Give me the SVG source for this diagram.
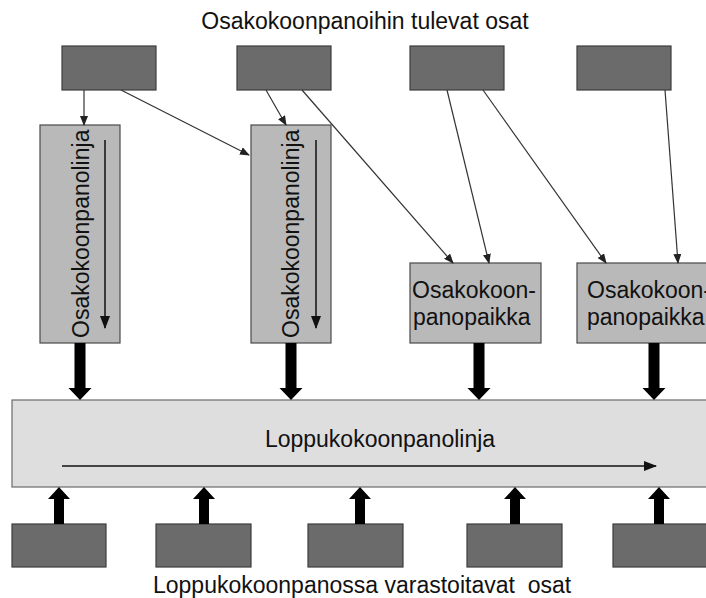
<svg xmlns="http://www.w3.org/2000/svg" width="706" height="598" viewBox="0 0 706 598">
  <style>
    .part { fill: #6b6b6b; stroke: #3c3c3c; stroke-width: 1.2; }
    .line { fill: #b9b9b9; stroke: #4a4a4a; stroke-width: 1.2; }
    .main { fill: #dedede; stroke: #6a6a6a; stroke-width: 1.2; }
    .lbl { font-family: "Liberation Sans", Arial, sans-serif; font-size: 23px; fill: #111; }
    .thin { stroke: #333; stroke-width: 1.2; fill: none; marker-end: url(#tip); }
    .flow { stroke: #111; stroke-width: 1.5; fill: none; }
    .big { fill: #000; }
  </style>
  <defs>
    <marker id="tip" markerWidth="10" markerHeight="8" refX="9" refY="4" orient="auto" markerUnits="userSpaceOnUse">
      <path d="M0,0 L10,4 L0,8 Z" fill="#222"/>
    </marker>
    <marker id="flowTip" markerWidth="13" markerHeight="10" refX="12" refY="5" orient="auto" markerUnits="userSpaceOnUse">
      <path d="M0,0 L13,5 L0,10 Z" fill="#111"/>
    </marker>
    <!-- thick block arrow pointing down, tip at origin -->
    <path id="downArrow" d="M-5.5,-57 L5.5,-57 L5.5,-12 L11.5,-12 L0,0 L-11.5,-12 L-5.5,-12 Z"/>
    <!-- thick block arrow pointing up, tip at origin -->
    <path id="upArrow" d="M-5,37 L5,37 L5,12 L11,12 L0,0 L-11,12 L-5,12 Z"/>
  </defs>

  <text class="lbl" x="365" y="29" text-anchor="middle">Osakokoonpanoihin tulevat osat</text>

  <!-- incoming parts -->
  <g id="in1"><rect class="part" x="62" y="46" width="94" height="44"/></g>
  <g id="in2"><rect class="part" x="237" y="46" width="94" height="44"/></g>
  <g id="in3"><rect class="part" x="410" y="46" width="94" height="44"/></g>
  <g id="in4"><rect class="part" x="577" y="46" width="94" height="44"/></g>

  <!-- sub-assembly lines -->
  <g id="lineA">
    <rect class="line" x="40" y="125" width="80" height="218"/>
    <text class="lbl" transform="translate(89,338) rotate(-90)">Osakokoonpanolinja</text>
    <line class="flow" x1="105" y1="140" x2="105" y2="328" marker-end="url(#flowTip)"/>
  </g>
  <g id="lineB">
    <rect class="line" x="251" y="125" width="80" height="218"/>
    <text class="lbl" transform="translate(299,338) rotate(-90)">Osakokoonpanolinja</text>
    <line class="flow" x1="316" y1="140" x2="316" y2="328" marker-end="url(#flowTip)"/>
  </g>

  <!-- sub-assembly stations -->
  <g id="stationA">
    <rect class="line" x="410" y="263" width="131" height="80"/>
    <text class="lbl" x="412" y="298">Osakokoon-</text>
    <text class="lbl" x="413" y="325">panopaikka</text>
  </g>
  <g id="stationB">
    <rect class="line" x="577" y="263" width="135" height="80"/>
    <text class="lbl" x="587" y="298">Osakokoon-</text>
    <text class="lbl" x="587" y="325">panopaikka</text>
  </g>

  <!-- final assembly line -->
  <g id="finalLine">
    <rect class="main" x="12" y="400" width="700" height="87"/>
    <text class="lbl" x="380" y="447" text-anchor="middle">Loppukokoonpanolinja</text>
    <line class="flow" x1="62" y1="466" x2="656" y2="466" marker-end="url(#flowTip)"/>
  </g>

  <!-- stored parts -->
  <g id="store1"><rect class="part" x="12" y="524" width="94" height="43"/></g>
  <g id="store2"><rect class="part" x="156" y="524" width="95" height="43"/></g>
  <g id="store3"><rect class="part" x="308" y="524" width="95" height="43"/></g>
  <g id="store4"><rect class="part" x="467" y="524" width="95" height="43"/></g>
  <g id="store5"><rect class="part" x="613" y="524" width="100" height="43"/></g>

  <text class="lbl" x="153" y="593" style="white-space:pre" font-size="22.6">Loppukokoonpanossa varastoitavat  osat</text>

  <g id="connectors">
    <line class="thin" x1="84" y1="90" x2="84" y2="125"/>
    <line class="thin" x1="121" y1="90" x2="249" y2="155"/>
    <line class="thin" x1="266" y1="90" x2="286" y2="125"/>
    <line class="thin" x1="302" y1="90" x2="453" y2="263"/>
    <line class="thin" x1="447" y1="90" x2="489" y2="263"/>
    <line class="thin" x1="483" y1="90" x2="606" y2="263"/>
    <line class="thin" x1="665" y1="90" x2="678" y2="263"/>

    <use href="#downArrow" class="big" x="80" y="400"/>
    <use href="#downArrow" class="big" x="291" y="400"/>
    <use href="#downArrow" class="big" x="479" y="400"/>
    <use href="#downArrow" class="big" x="654" y="400"/>

    <use href="#upArrow" class="big" x="59" y="487"/>
    <use href="#upArrow" class="big" x="204" y="487"/>
    <use href="#upArrow" class="big" x="360" y="487"/>
    <use href="#upArrow" class="big" x="515" y="487"/>
    <use href="#upArrow" class="big" x="659" y="487"/>
  </g>
</svg>
